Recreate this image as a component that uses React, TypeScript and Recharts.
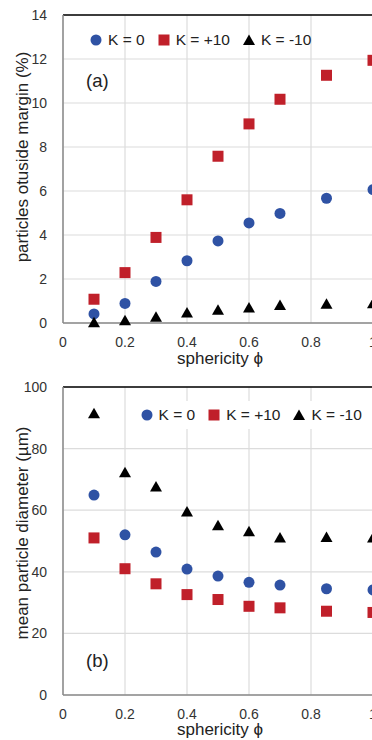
import React from "react";
import {
  ScatterChart,
  Scatter,
  XAxis,
  YAxis,
  CartesianGrid,
  ReferenceLine,
  Label,
} from "recharts";

// sphericity values (x)
const sphericity = [0.1, 0.2, 0.3, 0.4, 0.5, 0.6, 0.7, 0.85, 1.0];

// (a) particles outside margin (%)
const outsideK0 = [0.41, 0.89, 1.89, 2.83, 3.73, 4.55, 4.98, 5.67, 6.06];
const outsideKp10 = [1.08, 2.29, 3.89, 5.6, 7.58, 9.05, 10.17, 11.26, 11.94];
const outsideKm10 = [0.03, 0.12, 0.28, 0.48, 0.6, 0.7, 0.82, 0.88, 0.9];

// (b) mean particle diameter (µm)
const diamK0 = [64.9, 52.0, 46.4, 40.9, 38.6, 36.6, 35.7, 34.5, 34.1];
const diamKp10 = [51.0, 41.0, 36.1, 32.6, 31.0, 28.8, 28.3, 27.2, 26.8];
const diamKm10 = [91.5, 72.3, 67.7, 59.6, 55.1, 53.2, 51.1, 51.3, 51.1];

const xTicks = [0, 0.2, 0.4, 0.6, 0.8, 1];
const yTicksA = [0, 2, 4, 6, 8, 10, 12, 14];
const yTicksB = [0, 20, 40, 60, 80, 100];

const legendLabels = ["K = 0", "K = +10", "K = -10"];

const BLUE = "#2F52A4";
const RED = "#C0202A";
const BLACK = "#000000";
const FONT = "'Liberation Sans', Arial, sans-serif";

const toPoints = (ys: number[]) => sphericity.map((x, i) => ({ x, y: ys[i] }));

const Circle = (p: any) => <circle cx={p.cx} cy={p.cy} r={5.5} fill={BLUE} />;
const Square = (p: any) => (
  <rect x={p.cx - 5.5} y={p.cy - 5.5} width={11} height={11} fill={RED} />
);
const Triangle = (p: any) => (
  <polygon
    points={`${p.cx},${p.cy - 5.5} ${p.cx + 6},${p.cy + 5} ${p.cx - 6},${p.cy + 5}`}
    fill={BLACK}
  />
);

function LegendRow({ left, top, bg }: { left: number; top: number; bg?: boolean }) {
  const markers = [
    <svg width={12} height={12}><circle cx={6} cy={6} r={5.5} fill={BLUE} /></svg>,
    <svg width={12} height={12}><rect x={0.5} y={0.5} width={11} height={11} fill={RED} /></svg>,
    <svg width={12} height={12}><polygon points="6,0.5 12,11 0,11" fill={BLACK} /></svg>,
  ];
  return (
    <div
      style={{
        position: "absolute",
        left: left - 6,
        top,
        display: "flex",
        alignItems: "center",
        background: bg ? "#fff" : "transparent",
        padding: bg ? "4px 8px 4px 6px" : 0,
        fontFamily: FONT,
        fontSize: 15.5,
        color: "#222",
        lineHeight: "20px",
      }}
    >
      {legendLabels.map((t, i) => (
        <span key={t} style={{ display: "flex", alignItems: "center", marginRight: i < 2 ? 13 : 0 }}>
          <span style={{ display: "flex", marginRight: 6 }}>{markers[i]}</span>
          {t}
        </span>
      ))}
    </div>
  );
}

const tickStyle = { fontFamily: FONT, fontSize: 14, fill: "#333" };

function Panel({
  k0,
  kp10,
  km10,
  yMax,
  yTicks,
  yTitle,
  yTitleY,
  xTitleY,
  top,
  height,
  xAxisHeight,
}: {
  k0: number[];
  kp10: number[];
  km10: number[];
  yMax: number;
  yTicks: number[];
  yTitle: string;
  yTitleY: number;
  xTitleY: number;
  top: number;
  height: number;
  xAxisHeight: number;
}) {
  return (
    <ScatterChart
      width={400}
      height={height}
      margin={{ top, right: 27, left: 0, bottom: 0 }}
    >
      <CartesianGrid stroke="#dcdcdc" strokeWidth={1.2} />
      <XAxis
        type="number"
        dataKey="x"
        domain={[0, 1]}
        ticks={xTicks}
        tick={tickStyle}
        tickLine={false}
        tickMargin={8}
        axisLine={{ stroke: "#8a8a8a", strokeWidth: 1.5 }}
        height={xAxisHeight}
        interval={0}
      >
        <Label
          content={() => (
            <text
              x={220}
              y={xTitleY}
              textAnchor="middle"
              style={{ fontFamily: FONT, fontSize: 17, fill: "#222" }}
            >
              sphericity ϕ
            </text>
          )}
        />
      </XAxis>
      <YAxis
        type="number"
        dataKey="y"
        domain={[0, yMax]}
        ticks={yTicks}
        tick={tickStyle}
        tickLine={false}
        tickMargin={10}
        axisLine={{ stroke: "#8a8a8a", strokeWidth: 1.5 }}
        width={63}
        interval={0}
      >
        <Label
          content={() => (
            <text
              x={22}
              y={yTitleY}
              transform={`rotate(-90 22 ${yTitleY})`}
              textAnchor="middle"
              dominantBaseline="central"
              style={{ fontFamily: FONT, fontSize: 17, fill: "#222" }}
            >
              {yTitle}
            </text>
          )}
        />
      </YAxis>
      <ReferenceLine y={yMax} stroke="#000" strokeWidth={1.5} />
      <Scatter data={toPoints(k0)} shape={Circle} isAnimationActive={false} />
      <Scatter data={toPoints(kp10)} shape={Square} isAnimationActive={false} />
      <Scatter data={toPoints(km10)} shape={Triangle} isAnimationActive={false} />
    </ScatterChart>
  );
}

export default function App() {
  return (
    <div
      style={{
        position: "absolute",
        top: 0,
        left: 0,
        width: 372,
        height: 740,
        overflow: "hidden",
        background: "#fff",
      }}
    >
      <div style={{ position: "absolute", top: 0, left: 0 }}>
        <Panel
          k0={outsideK0}
          kp10={outsideKp10}
          km10={outsideKm10}
          yMax={14}
          yTicks={yTicksA}
          yTitle="particles otuside margin (%)"
          yTitleY={157}
          xTitleY={364}
          top={15}
          height={370}
          xAxisHeight={47}
        />
      </div>
      <div style={{ position: "absolute", top: 365, left: 0 }}>
        <Panel
          k0={diamK0}
          kp10={diamKp10}
          km10={diamKm10}
          yMax={100}
          yTicks={yTicksB}
          yTitle="mean particle diameter (µm)"
          yTitleY={168}
          xTitleY={370}
          top={22}
          height={375}
          xAxisHeight={45}
        />
      </div>
      <LegendRow left={96} top={30} />
      <LegendRow left={140.5} top={401} bg />
      <div style={{ position: "absolute", left: 86, top: 70, fontFamily: FONT, fontSize: 18.5, color: "#222" }}>
        (a)
      </div>
      <div style={{ position: "absolute", left: 86, top: 650, fontFamily: FONT, fontSize: 18.5, color: "#222" }}>
        (b)
      </div>
    </div>
  );
}
